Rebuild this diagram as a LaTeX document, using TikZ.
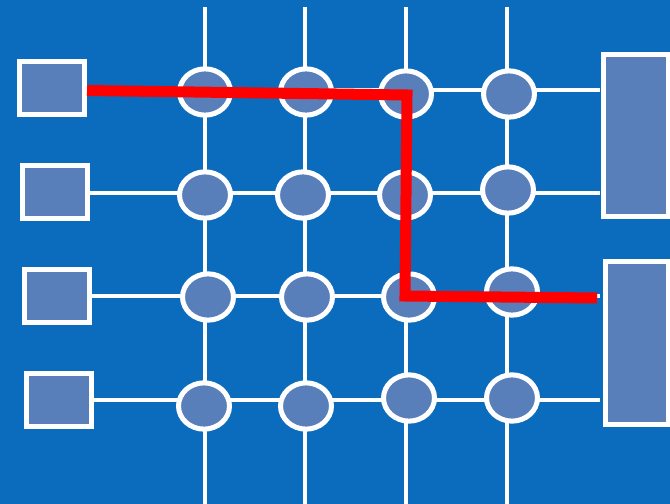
\documentclass[tikz,border=0pt]{standalone}
\usetikzlibrary{shapes.geometric}

\definecolor{bgblue}{RGB}{11,108,190}
\definecolor{cellblue}{RGB}{89,127,187}

\begin{document}
\begin{tikzpicture}[x=0.03cm, y=-0.03cm,
  wire/.style={white, line width=3.4pt},
  port/.style={draw=white, fill=cellblue, line width=4.3pt, inner sep=0pt,
               minimum width=55.5pt, minimum height=45pt},
  cell/.style={ellipse, draw=white, fill=cellblue, line width=4.3pt, inner sep=0pt,
               minimum width=43.5pt, minimum height=39.5pt},
  route/.style={red, line width=9.4pt, line join=miter}]

% Background
\fill[bgblue] (0,0) rectangle (670,504);
\useasboundingbox (0,0) rectangle (670,504);

% Input ports on the left
\foreach \i/\x/\y in {1/52/88, 2/55/192, 3/57/296, 4/59/400}
{
    \node[port] (sq\i) at (\x,\y) {};
}

% Output ports on the right
\node[port, minimum width=55pt, minimum height=138pt] (out1) at (636,135.5) {};
\node[port, minimum width=53pt, minimum height=139pt] (out2) at (637,343) {};

% Horizontal wires
\foreach \i/\y in {1/90, 2/193, 3/296, 4/400}
{
    \coordinate (h\i) at (600,\y);
    \draw[wire] (sq\i.east |- h\i) -- (h\i);
}

% Vertical wires
\foreach \j/\x in {1/205, 2/305, 3/406, 4/507}
{
    \coordinate (t\j) at (\x,7);
    \coordinate (b\j) at (\x,504);
    \draw[wire] (t\j) -- (b\j);
}

% Switch cells
\foreach \r/\c/\x/\y in {1/1/205/92, 1/2/306/92, 1/3/406/94, 1/4/509/94,
                         2/1/205/195, 2/2/303/195, 2/3/405/195, 2/4/508/190,
                         3/1/208/297, 3/2/307/297, 3/3/409/297, 3/4/512/292,
                         4/1/204/406, 4/2/306/406, 4/3/409/398, 4/4/512/398}
{
    \node[cell] (e\r\c) at (\x,\y) {};
}

% Routed path
\coordinate (rturn1) at (407,95);
\coordinate (rturn2) at (405,296);
\coordinate (rend) at (597,298);
\draw[route] (sq1.east |- 0,90.5) -- (rturn1) -- (rturn2) -- (rend);

\end{tikzpicture}
\end{document}
